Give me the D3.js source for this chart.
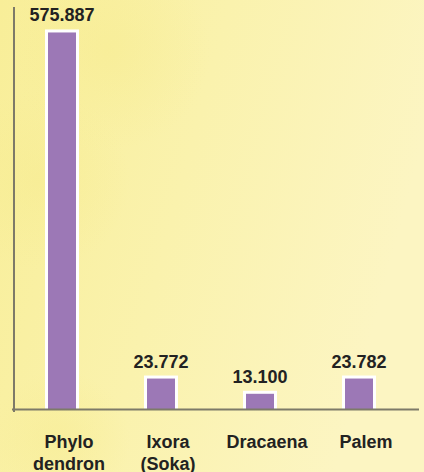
<!DOCTYPE html>
<html><head><meta charset="utf-8">
<script src="https://cdn.jsdelivr.net/npm/d3@7"></script>
<style>html,body{margin:0;padding:0;overflow:hidden}svg{display:block}</style>
</head><body>
<script>
const categories = ["Phylo\ndendron", "Ixora\n(Soka)", "Dracaena", "Palem"];
const values = [575.887, 23.772, 13.1, 23.782];
const valueLabels = ["575.887", "23.772", "13.100", "23.782"];

const W = 424, H = 472;
const svg = d3.select("body").append("svg").attr("width", W).attr("height", H);
const defs = svg.append("defs");
const lg = defs.append("linearGradient").attr("id","bg").attr("x1","0").attr("y1","0").attr("x2","1").attr("y2","0.3");
lg.append("stop").attr("offset","0").attr("stop-color","#f8ee98");
lg.append("stop").attr("offset","0.5").attr("stop-color","#faf2ad");
lg.append("stop").attr("offset","1").attr("stop-color","#fcf5c2");
svg.append("rect").attr("width",W).attr("height",H).attr("fill","url(#bg)");
const rg = defs.append("radialGradient").attr("id","spot");
rg.append("stop").attr("offset","0").attr("stop-color","#f6ea88").attr("stop-opacity",0.35);
rg.append("stop").attr("offset","1").attr("stop-color","#f6ea88").attr("stop-opacity",0);
[[110,50,100],[40,180,90],[60,440,70]].forEach(([cx,cy,r])=>{
  svg.append("circle").attr("cx",cx).attr("cy",cy).attr("r",r).attr("fill","url(#spot)");
});

const baseY = 409.5;
const x = d3.scalePoint().domain(categories).range([12.5, 408.5]).padding(0.5);
const y = d3.scaleLinear().domain([0, 25, 600]).range([baseY, 373.8, 14.4]);
const barW = 34;
const font = "'Liberation Sans', Arial, Helvetica, sans-serif";

const g = svg.append("g");
values.forEach((v, i) => {
  const cx = x(categories[i]);
  g.append("rect").attr("x", cx - barW/2).attr("y", y(v)).attr("width", barW).attr("height", baseY - y(v)).attr("fill", "#ffffff");
  g.append("rect").attr("x", cx - barW/2 + 3).attr("y", y(v) + 3).attr("width", barW - 6).attr("height", Math.max(0, baseY - y(v) - 3)).attr("fill", "#9c78b6");
  g.append("text").attr("x", cx).attr("y", y(v) - 8).attr("text-anchor","middle")
    .attr("font-family",font).attr("font-weight","bold").attr("font-size",18)
    .attr("fill","#222").text(valueLabels[i]);
  const lines = categories[i].split("\n");
  const t = g.append("text").attr("text-anchor","middle")
    .attr("font-family",font).attr("font-weight","bold").attr("font-size",18).attr("fill","#222");
  lines.forEach((l, j) => t.append("tspan").attr("x", cx + 7).attr("y", 447.5 + j*22).text(l));
});

svg.append("line").attr("x1",14).attr("x2",14).attr("y1",7).attr("y2",412).attr("stroke","#7d7a68").attr("stroke-width",2);
svg.append("line").attr("x1",12).attr("x2",419).attr("y1",baseY).attr("y2",baseY).attr("stroke","#7d7a68").attr("stroke-width",2);
</script>
</body></html>
